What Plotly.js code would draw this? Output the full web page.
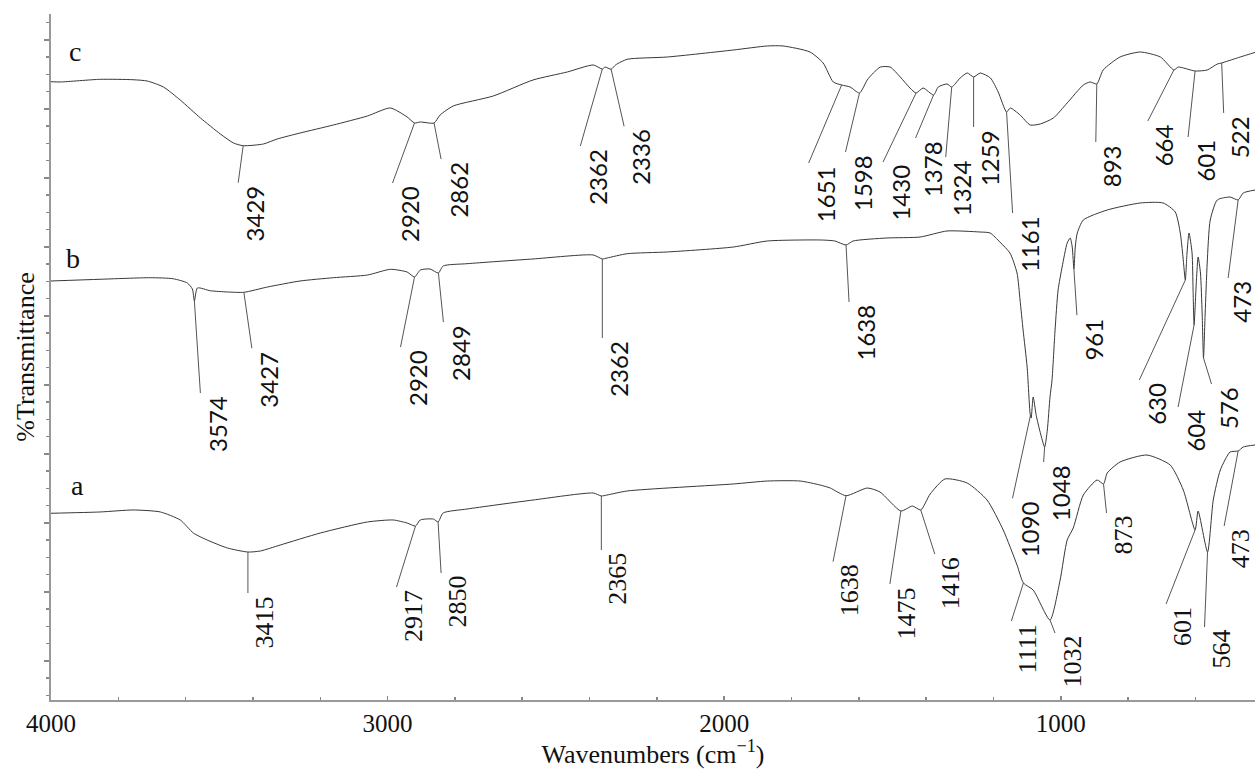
<!DOCTYPE html>
<html>
<head>
<meta charset="utf-8">
<script src="https://cdn.plot.ly/plotly-3.0.1.min.js"></script>
<style>html,body{margin:0;padding:0;background:#fff;}#chart{width:1255px;height:769px;}</style>
</head>
<body>
<div id="chart"></div>
<script>
// ---- DATA (wavenumber cm-1, relative %T) ----
const spectrumC = [[4000,90.13],[3972,90.09],[3854,90.48],[3756,90.42],[3714,90.23],[3666,89.36],[3616,87.46],[3556,84.84],[3497,82.51],[3458,81.2],[3429,80.8],[3369,81.05],[3328,81.78],[3260,82.65],[3161,83.82],[3060,85.13],[2992,86.3],[2942,84.99],[2920,84.11],[2903,84.26],[2862,84.11],[2844,85.28],[2805,86.59],[2686,88.05],[2568,90.38],[2466,91.55],[2389,92.57],[2362,91.98],[2354,92.27],[2336,91.95],[2322,92.6],[2288,93.4],[2169,93.73],[1973,94.75],[1872,95.34],[1825,95.34],[1745,94.46],[1706,92.86],[1676,90.09],[1651,89.65],[1626,89.36],[1598,88.48],[1575,90.38],[1557,91.4],[1536,92.27],[1507,92.27],[1477,90.82],[1448,89.21],[1430,88.48],[1409,89.21],[1378,88.19],[1364,89.36],[1338,89.8],[1324,89.36],[1299,90.67],[1278,91.4],[1259,90.82],[1239,91.4],[1209,90.67],[1186,88.63],[1161,85.71],[1150,86.3],[1121,85.28],[1091,83.82],[1061,83.97],[1022,84.84],[981,87.03],[933,89.65],[913,90.09],[893,89.8],[874,91.84],[824,93.73],[764,94.46],[704,93.73],[664,91.84],[651,92.27],[601,91.69],[565,91.84],[535,92.71],[522,92.86],[476,93.59],[429,94.31],[423,94.4]];

const spectrumB = [[4000,61.08],[3854,61.33],[3705,61.56],[3637,61.41],[3595,60.79],[3580,59.91],[3574,58.16],[3565,60.06],[3527,59.66],[3476,59.48],[3427,59.43],[3357,60.2],[3260,61.08],[3161,61.56],[3060,61.95],[2992,62.78],[2942,62.39],[2920,61.66],[2903,62.68],[2874,62.83],[2849,62.24],[2835,63.27],[2764,63.6],[2568,64.29],[2389,64.87],[2362,64.29],[2348,64.43],[2288,65.06],[2169,65.31],[1973,66.03],[1872,66.91],[1715,67.06],[1671,66.91],[1638,66.33],[1617,66.91],[1516,67.35],[1418,67.49],[1338,68.37],[1240,68.22],[1210,68.08],[1181,66.76],[1151,65.16],[1130,62.24],[1121,58.31],[1112,53.94],[1100,48.54],[1091,41.7],[1088,41.1],[1082,44.17],[1073,41.5],[1061,39.0],[1048,36.88],[1040,39.36],[1032,44.17],[1026,46.65],[1017,53.94],[1008,59.77],[996,63.12],[981,66.62],[972,67.35],[966,66.03],[961,62.8],[957,66.03],[951,68.08],[933,69.97],[862,71.43],[764,72.45],[696,72.45],[660,71.14],[645,68.08],[637,64.58],[630,61.22],[625,65.16],[619,68.08],[610,65.16],[607,59.77],[604,54.66],[597,61.22],[592,64.58],[585,62.24],[580,56.41],[576,49.85],[571,56.41],[565,63.7],[556,69.97],[535,72.89],[497,73.32],[473,72.89],[458,73.91],[423,74.34]];

const spectrumA = [[4000,27.22],[3854,27.41],[3756,27.7],[3675,27.41],[3616,26.24],[3577,24.34],[3536,23.32],[3476,22.16],[3415,21.57],[3378,21.72],[3319,22.59],[3200,24.34],[3060,25.95],[2983,26.24],[2942,25.8],[2917,25.36],[2903,26.24],[2864,26.38],[2850,25.95],[2835,27.26],[2764,27.84],[2568,29.15],[2389,30.17],[2365,29.74],[2348,29.88],[2288,30.47],[1973,31.49],[1872,31.92],[1774,31.92],[1715,31.34],[1685,30.9],[1638,29.78],[1575,30.9],[1537,30.32],[1475,27.55],[1441,28.28],[1416,27.7],[1388,30.03],[1344,32.22],[1278,31.63],[1219,29.15],[1171,24.78],[1130,19.68],[1111,17.06],[1082,16.03],[1032,11.66],[1002,17.49],[981,23.32],[963,25.07],[933,29.88],[892,32.07],[873,31.49],[862,33.09],[824,34.69],[744,35.71],[675,34.26],[636,30.61],[601,24.78],[592,27.55],[564,21.57],[547,29.15],[526,33.53],[497,36.15],[473,36.3],[458,36.88],[423,37.17]];

const peaksC = [3429,2920,2862,2362,2336,1651,1598,1430,1378,1324,1259,1161,893,664,601,522];
const peaksB = [3574,3427,2920,2849,2362,1638,1090,1048,961,630,604,576,473];
const peaksA = [3415,2917,2850,2365,1638,1475,1416,1111,1032,873,601,564,473];
const seriesNames = ['c','b','a'];
const xTickValues = [4000,3000,2000,1000];

// ---- LAYOUT: leader offsets (pixels, dx right, dy down) and label text shifts ----
const leadC = [[-5,37],[-22,60],[7,36],[-22,77],[13,57],[-33,78],[-14,59],[-33,69],[-18,43],[-6,70],[0,50],[6,101],[-1,58],[-26,51],[-7,66],[2,50]];
const leadB = [[6,92],[8,56],[-14,70],[5,49],[0,79],[3,57],[-18,83],[-1,15],[3,46],[-46,100],[-16,82],[8,26],[-10,78]];
const leadA = [[0,41],[-19,61],[3,51],[0,54],[-13,66],[-11,73],[14,44],[-12,38],[5,13],[3,29],[-29,74],[-3,75],[-14,75]];
const edgeNudge = {'b473': -3};

const serif = 'Liberation Serif';
const sans = 'Lato';

function interp(spec, x) {
  for (let i = 0; i < spec.length - 1; i++) {
    const [x0, y0] = spec[i], [x1, y1] = spec[i + 1];
    if (x <= x0 && x >= x1) {
      if (x0 === x1) return y0;
      return y0 + (y1 - y0) * (x0 - x) / (x0 - x1);
    }
  }
  return spec[spec.length - 1][1];
}

const specs = [spectrumC, spectrumB, spectrumA];
const traces = specs.map((s, i) => ({
  type: 'scatter', mode: 'lines', name: seriesNames[i],
  x: s.map(p => p[0]), y: s.map(p => p[1]),
  line: {color: '#383838', width: 1, shape: 'spline', smoothing: 0.6}, hoverinfo: 'x+y'
}));

const shapes = [], annotations = [];
function addLabels(key, spec, peaks, lead, font) {
  peaks.forEach((p, i) => {
    const y = interp(spec, p);
    const [dx, dy] = lead[i];
    const nudge = edgeNudge[key + p] || 0;
    shapes.push({type: 'line', xref: 'x', yref: 'y', xsizemode: 'pixel', ysizemode: 'pixel',
      xanchor: p, yanchor: y, x0: 0, y0: 0, x1: dx, y1: -dy,
      line: {color: '#555', width: 1}});
    annotations.push({x: p, y: y, xref: 'x', yref: 'y', text: String(p), showarrow: false,
      textangle: -90, xanchor: 'left', yanchor: 'top', xshift: dx + nudge, yshift: -(dy + 1),
      font: font});
  });
}
addLabels('c', spectrumC, peaksC, leadC, {family: sans, size: 24, color: '#111'});
addLabels('b', spectrumB, peaksB, leadB, {family: sans, size: 24, color: '#111'});
addLabels('a', spectrumA, peaksA, leadA, {family: serif, size: 26, color: '#111'});

// series letters
const letterPos = [[3928, 94.6], [3935, 64.3], [3922, 31.2]];
seriesNames.forEach((n, i) => {
  annotations.push({x: letterPos[i][0], y: letterPos[i][1], xref: 'x', yref: 'y', text: n,
    showarrow: false, font: {family: serif, size: 28, color: '#111'}});
});

const layout = {
  width: 1255, height: 769,
  margin: {l: 51, r: 0, t: 14, b: 69, pad: 0},
  paper_bgcolor: '#fff', plot_bgcolor: '#fff',
  showlegend: false,
  font: {family: serif, color: '#111'},
  xaxis: {
    range: [4000, 423], autorange: false,
    tickmode: 'array', tickvals: xTickValues, ticktext: xTickValues.map(String),
    ticks: 'inside', ticklen: 4, tickcolor: '#888', tickwidth: 1.5,
    minor: {tickmode: 'linear', tick0: 4000, dtick: 200, ticks: 'inside', ticklen: 3, tickcolor: '#888', tickwidth: 1.5},
    showline: true, linecolor: '#999', linewidth: 2,
    showgrid: false, zeroline: false,
    tickfont: {family: serif, size: 25, color: '#111'},
    title: {text: 'Wavenumbers (cm<sup>\u22121</sup>)', font: {family: serif, size: 26, color: '#111'}, standoff: 6}
  },
  yaxis: {
    range: [0, 100], autorange: false,
    tickmode: 'linear', tick0: 5.7, dtick: 10.06, showticklabels: false,
    ticks: 'outside', ticklen: 5, tickcolor: '#888', tickwidth: 1.5,
    minor: {tickmode: 'linear', tick0: 5.7, dtick: 2.515, ticks: 'outside', ticklen: 3, tickcolor: '#888', tickwidth: 1.5},
    showline: true, linecolor: '#999', linewidth: 2,
    showgrid: false, zeroline: false,
    title: {text: '%Transmittance', font: {family: serif, size: 26, color: '#111'}, standoff: 2}
  },
  shapes: shapes,
  annotations: annotations
};

Plotly.newPlot('chart', traces, layout, {displayModeBar: false, staticPlot: true});
</script>
</body>
</html>
